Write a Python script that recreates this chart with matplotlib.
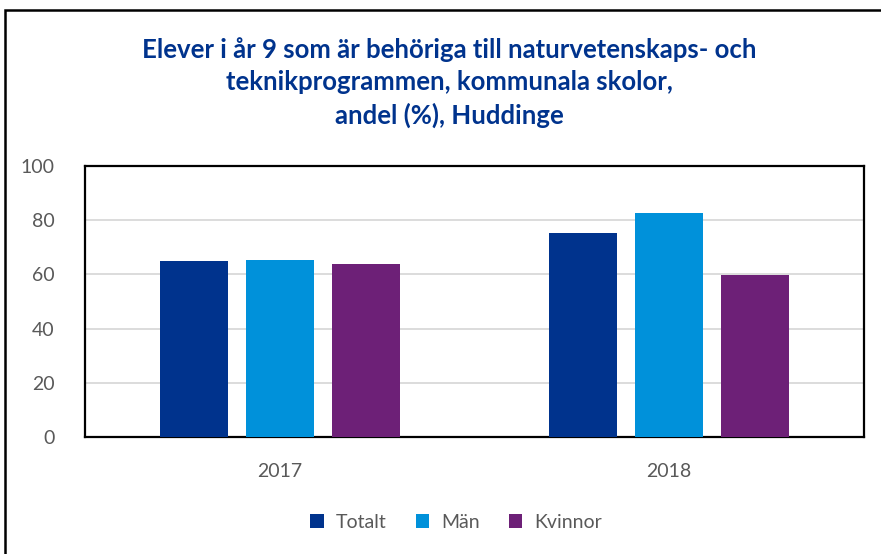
import matplotlib.pyplot as plt
import numpy as np
from matplotlib.patches import Rectangle

# data
years = ["2017", "2018"]
series = ["Totalt", "Män", "Kvinnor"]
totalt = [65, 75.2]
man = [65.3, 82.6]
kvinnor = [63.8, 59.9]
colors = ["#00338D", "#0091DA", "#6D2077"]

plt.rcParams['font.family'] = ['Lato', 'DejaVu Sans']

fig = plt.figure(figsize=(8.81, 5.54), dpi=100)
ax = fig.add_axes([85 / 881, 1 - 437 / 554, 779 / 881, 271 / 554])

x = np.arange(len(years))
width = 0.175
step = 0.221
for i, (name, vals) in enumerate(zip(series, [totalt, man, kvinnor])):
    ax.bar(x + (i - 1) * step, vals, width, color=colors[i], label=name, zorder=3)

ax.set_xlim(-0.5, 1.5)
ax.set_ylim(0, 100)
ax.set_yticks(range(0, 101, 20))
ax.set_xticks(x)
ax.set_xticklabels(years)
ax.tick_params(axis='both', length=0, labelsize=14, colors="#595959")
ax.tick_params(axis='y', pad=22)
ax.tick_params(axis='x', pad=19)
ax.yaxis.grid(True, color="#d9d9d9", linewidth=1.3, zorder=0)
for s in ax.spines.values():
    s.set_linewidth(1.6)
    s.set_color("black")

fig.text(449 / 881, 1 - 37 / 554, "Elever i år 9 som är behöriga till naturvetenskaps- och\n"
         "teknikprogrammen, kommunala skolor,\nandel (%), Huddinge",
         ha='center', va='top', fontsize=18.5, fontweight='bold', color="#00338D",
         linespacing=1.4)

ax.legend(loc='center', bbox_to_anchor=(456 / 881, 1 - 522 / 554),
          bbox_transform=fig.transFigure, ncol=3, frameon=False, fontsize=14,
          labelcolor="#595959", handlelength=0.7, handleheight=0.7,
          handletextpad=0.6, columnspacing=1.5)

fig.patches.append(Rectangle((5 / 881, -0.1), 1.2, 1 - 10 / 554 + 0.1,
                             transform=fig.transFigure, fill=False,
                             edgecolor="black", linewidth=1.8, figure=fig))

fig.savefig("out.png", dpi=100)
